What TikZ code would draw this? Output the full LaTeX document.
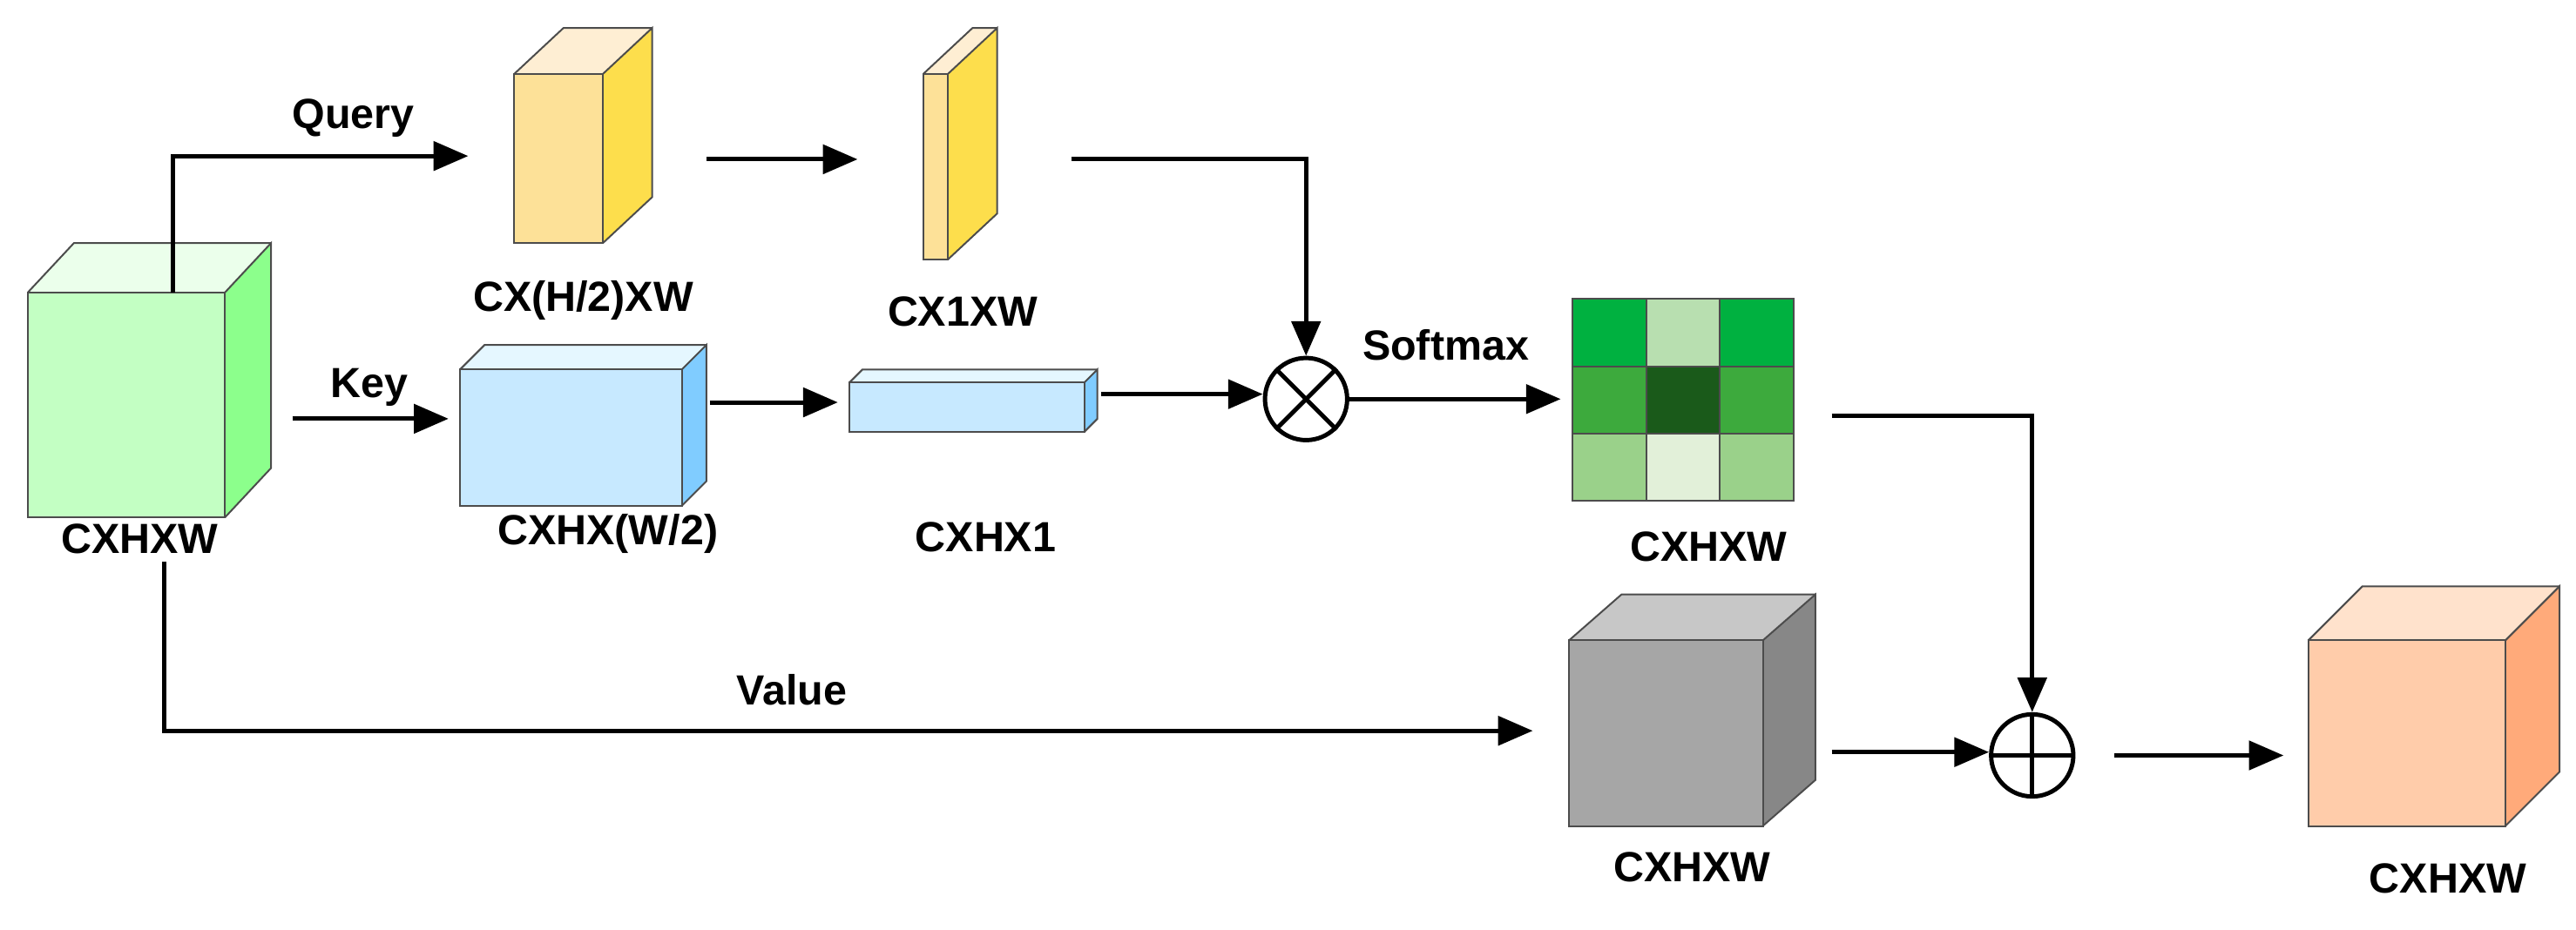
\documentclass[tikz,border=0pt]{standalone}
\usepackage{fontspec}
\setmainfont{Liberation Sans}
\usetikzlibrary{arrows.meta}
\newcommand\mycuboid[9]{% x1 y1 x2 y2 dx dy front side top
  \fill[#7] (#1,#2) rectangle (#3,#4);
  \fill[#8] (#3,#2) -- (#3+#5,#2-#6) -- (#3+#5,#4-#6) -- (#3,#4) -- cycle;
  \fill[#9] (#1,#2) -- (#1+#5,#2-#6) -- (#3+#5,#2-#6) -- (#3,#2) -- cycle;
  \draw[edge] (#1,#2) rectangle (#3,#4);
  \draw[edge] (#3,#2) -- (#3+#5,#2-#6) -- (#3+#5,#4-#6) -- (#3,#4);
  \draw[edge] (#1,#2) -- (#1+#5,#2-#6) -- (#3+#5,#2-#6);
}
\begin{document}
\begin{tikzpicture}[x=0.01cm,y=-0.01cm,
  edge/.style={draw=black!70,line width=0.3pt},
  arr/.style={line width=0.75pt,-{Triangle[length=6pt,width=5pt]}},
  op/.style={draw,circle,line width=0.75pt,minimum size=0.5cm,inner sep=0pt},
  lab/.style={font=\fontsize{7.3}{8}\selectfont\bfseries,inner sep=0pt}]
\useasboundingbox (0,0) rectangle (1568,566);
% green cube
\mycuboid{17}{178}{137}{315}{28}{30}{fill=green!10!white!85!green}{fill=green!45!white}{fill=green!8!white}
\node[lab] (l1) at (85,328) {CXHXW};
% yellow blocks
\mycuboid{313}{45}{367}{148}{30}{28}{fill=yellow!45!orange!38!white}{fill=yellow!70!orange!70!white}{fill=yellow!20!orange!15!white}
\node[lab] (l2) at (355,183) {CX(H/2)XW};
\mycuboid{562}{45}{577}{158}{30}{28}{fill=yellow!45!orange!38!white}{fill=yellow!70!orange!70!white}{fill=yellow!20!orange!15!white}
\node[lab] (l3) at (586,190) {CX1XW};
% blue blocks
\mycuboid{280}{225}{415}{308}{15}{15}{fill=blue!40!cyan!22!white}{fill=blue!40!cyan!50!white}{fill=blue!30!cyan!10!white}
\node[lab] (l4) at (370,325) {CXHX(W/2)};
\mycuboid{517}{233}{660}{263}{8}{8}{fill=blue!40!cyan!22!white}{fill=blue!40!cyan!50!white}{fill=blue!30!cyan!10!white}
\node[lab] (l5) at (600,327) {CXHX1};
% gray cube
\mycuboid{955}{390}{1073}{503}{32}{28}{fill=black!35}{fill=black!47}{fill=black!22}
\node[lab] (l6) at (1030,528) {CXHXW};
% orange cube
\mycuboid{1405}{390}{1525}{503}{33}{33}{fill={rgb,255:red,255;green,204;blue,170}}{fill={rgb,255:red,255;green,170;blue,122}}{fill={rgb,255:red,255;green,226;blue,204}}
\node[lab] (l7) at (1490,535) {CXHXW};
% grid
\definecolor{g1}{HTML}{00B140}\definecolor{g2}{HTML}{B8DFB0}
\definecolor{g3}{HTML}{3DAA3D}\definecolor{g4}{HTML}{1A5A1A}
\definecolor{g5}{HTML}{9AD18A}\definecolor{g6}{HTML}{E2F0D9}
\fill[g1] (957,182) rectangle (1002,223);\fill[g2] (1002,182) rectangle (1047,223);\fill[g1] (1047,182) rectangle (1092,223);
\fill[g3] (957,223) rectangle (1002,264);\fill[g4] (1002,223) rectangle (1047,264);\fill[g3] (1047,223) rectangle (1092,264);
\fill[g5] (957,264) rectangle (1002,305);\fill[g6] (1002,264) rectangle (1047,305);\fill[g5] (1047,264) rectangle (1092,305);
\draw[edge] (957,182) rectangle (1092,305) (1002,182)--(1002,305) (1047,182)--(1047,305)
  (957,223)--(1092,223) (957,264)--(1092,264);
\node[lab] (l8) at (1040,333) {CXHXW};
% operators
\node[op] (ot) at (795,243) {};
\draw[line width=0.75pt] (ot.135)--(ot.-45) (ot.45)--(ot.-135);
\node[op] (op) at (1237,460) {};
\draw[line width=0.75pt] (op.north)--(op.south) (op.east)--(op.west);
% coordinates
\coordinate (q0) at (105,178); \coordinate (q1) at (285,95);
\coordinate (a1) at (430,97); \coordinate (a2) at (522,97);
\coordinate (b0) at (652,97);
\coordinate (k0) at (178,255); \coordinate (k1) at (273,255);
\coordinate (c0) at (432,245); \coordinate (c1) at (510,245);
\coordinate (d0) at (670,240);
\coordinate (s1) at (950,243);
\coordinate (e0) at (1115,253);
\coordinate (v0) at (100,342); \coordinate (v1) at (933,445);
\coordinate (f0) at (1115,458); \coordinate (h0) at (1287,460); \coordinate (h1) at (1390,460);
% connectors
\draw[arr] (q0) |- (q1);
\node[lab] at (215,72) {Query};
\draw[arr] (a1) -- (a2);
\draw[arr] (b0) -| (ot.north);
\draw[arr] (k0) -- (k1);
\node[lab] at (225,236) {Key};
\draw[arr] (c0) -- (c1);
\draw[arr] (d0) -- (ot.west|-d0);
\draw[arr] (ot.east) -- (s1);
\node[lab] at (880,210) {Softmax};
\draw[arr] (e0) -| (op.north);
\draw[arr] (v0) |- (v1);
\node[lab] at (482,420) {Value};
\draw[arr] (f0) -- (op.west|-f0);
\draw[arr] (h0) -- (h1);
\end{tikzpicture}
\end{document}
